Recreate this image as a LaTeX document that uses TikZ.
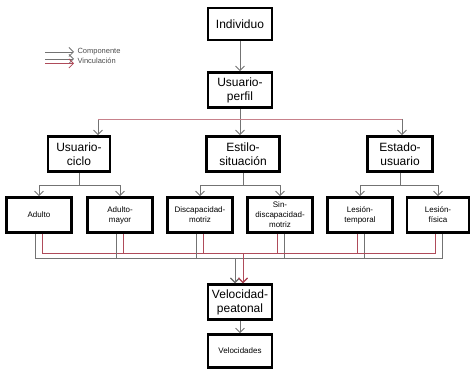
\documentclass[tikz,border=0pt]{standalone}
\usepackage{fontspec}
\setmainfont{Liberation Sans}
\usetikzlibrary{arrows,arrows.meta}
\definecolor{lnk}{RGB}{175,75,90}
\tikzset{bx/.append style={draw,line width=2.8pt,minimum width=65pt,minimum height=35pt,inner sep=1pt,align=center,fill=white,font=\fontsize{12}{14}\selectfont}}
\tikzset{sm/.append style={font=\fontsize{8}{10}\selectfont}}
\tikzset{cp/.append style={draw=black!55,line width=0.8pt,-{Straight Barb[length=4.5pt,width=9pt]}}}
\tikzset{vg/.append style={cp}}
\tikzset{vr/.append style={cp,draw=lnk}}
\tikzset{bus/.append style={draw=lnk!70,line width=0.8pt}}

\begin{document}
\begin{tikzpicture}[x=1pt,y=-1pt]
                \useasboundingbox (0,0) rectangle (473,371);
                % legend
                \node[anchor=west,text=black!70,font=\fontsize{7.5}{8}\selectfont] (lc) at (74,52) {Componente};
                \node[anchor=west,text=black!70,font=\fontsize{7.5}{8}\selectfont] (lv) at (74,61) {Vinculación};
                \coordinate (l1) at (45,52);
                \coordinate (l2) at (45,59);
                \coordinate (l3) at (45,63.5);
                \path (l1) edge[cp] (l1 -| lc.west);
                \path (l2) edge[vg] (l2 -| lv.west);
                \path (l3) edge[vr] (l3 -| lv.west);
                % boxes
                \node[bx,minimum width=64pt,minimum height=32pt] (ind) at (240,24) {Individuo};
                \node[bx,minimum width=64pt] (perf) at (240,90) {Usuario-\\perfil};
                \node[bx,minimum width=62pt] (uc) at (79,154) {Usuario-\\ciclo};
                \node[bx,minimum width=73pt] (es) at (243,154) {Estilo-\\situación};
                \node[bx] (eu) at (400,154) {Estado-\\usuario};
                \node[bx,sm] (ad) at (39,215) {Adulto};
                \node[bx,sm] (am) at (120,215) {Adulto-\\mayor};
                \node[bx,sm] (dm) at (200,215) {Discapacidad-\\motriz};
                \node[bx,sm] (sd) at (280,215) {Sin-\\discapacidad-\\motriz};
                \node[bx,sm] (lt) at (360,215) {Lesión-\\temporal};
                \node[bx,sm,minimum width=62pt] (lf) at (438,215) {Lesión-\\física};
                \node[bx,minimum width=64pt] (vp) at (240,302) {Velocidad-\\peatonal};
                \node[bx,sm,minimum width=64pt,minimum height=33pt] (vel) at (240,351) {Velocidades};
                % components
                \path (ind) edge[cp] (perf);
                \coordinate (b1) at (98,119);
                \coordinate (b2) at (402,119);
                \draw[cp] (perf.south) -- (perf.south |- es.north);
                \draw[cp] (b1) -- (b1 |- uc.north);
                \draw[cp] (b2) -- (b2 |- eu.north);
                \draw[bus] (b1) -- (b2);
                \draw[cp] (uc.south) -- ++(0,13) -| (ad.north);
                \draw[cp] (uc.south) -- ++(0,13) -| (am.north);
                \draw[cp] (es.south) -- ++(0,13) -| (dm.north);
                \draw[cp] (es.south) -- ++(0,13) -| (sd.north);
                \draw[cp] (eu.south) -- ++(0,13) -| (lt.north);
                \draw[cp] (eu.south) -- ++(0,13) -| (lf.north);
                % links into the speed box
                \foreach \n in {ad,am,dm} {
                    \draw[vg] ([xshift=-4pt]\n.south) -- ++(0,24) -| ([xshift=-5pt]vp.north);
                    \draw[vr] ([xshift=3pt]\n.south) -- ++(0,19) -| ([xshift=3pt]vp.north);
                }
                \foreach \n in {sd,lt,lf} {
                    \draw[vg] ([xshift=4pt]\n.south) -- ++(0,24) -| ([xshift=-5pt]vp.north);
                    \draw[vr] ([xshift=-3pt]\n.south) -- ++(0,19) -| ([xshift=3pt]vp.north);
                }
                \path (vp) edge[cp] (vel);
            \end{tikzpicture}
\end{document}
